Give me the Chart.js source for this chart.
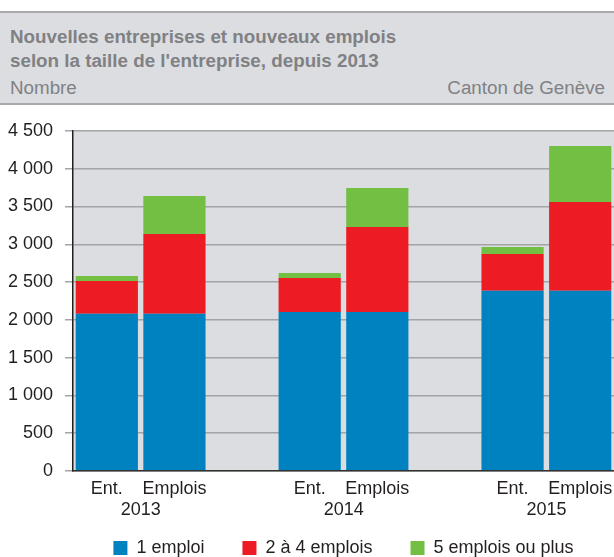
<!DOCTYPE html>
<html lang="fr">
<head>
  <meta charset="UTF-8">
  <script src="https://cdn.jsdelivr.net/npm/chart.js"></script>
  <style>
    body { margin: 0; background: #fff; font-family: "Liberation Sans", Arial, sans-serif; }
    .wrap { position: relative; width: 614px; height: 557px; }
    .header {
      position: absolute; left: 0; top: 11px; width: 614px; height: 90px;
      background: #dcdde0; border-top: 2px solid #a9a9aa; border-bottom: 2px solid #a9a9aa;
      color: #808184; font-size: 18.8px;
    }
    .title { position: absolute; left: 10px; top: 12px; font-weight: bold; line-height: 24px; }
    .unit { position: absolute; left: 10px; top: 64px; line-height: 22px; }
    .source { position: absolute; right: 9px; top: 64px; line-height: 22px; }
    canvas { position: absolute; left: 0; top: 0; }
  </style>
</head>
<body>
  <div class="wrap">
    <div class="header">
      <div class="title">Nouvelles entreprises et nouveaux emplois<br>selon la taille de l'entreprise, depuis 2013</div>
      <div class="unit">Nombre</div>
      <div class="source">Canton de Genève</div>
    </div>
    <canvas id="chart" width="614" height="557"></canvas>
  </div>

  <script>
    const years = ['2013', '2014', '2015'];
    const barLabels = ['Ent.', 'Emplois'];

    // pairs per year: [Ent., Emplois]
    const unEmploi = [2080, 2080, 2104, 2104, 2386, 2386];
    const deuxAQuatre = [435, 1057, 450, 1125, 486, 1174];
    const cinqEtPlus = [65, 503, 66, 516, 93, 741];

    const yTicks = { min: 0, max: 4500, step: 500 };

    // 2 bars per year with an empty slot between groups
    const categories = [];
    const yearRow = [];
    years.forEach((y, i) => {
      if (i > 0) { categories.push(''); yearRow.push(''); }
      categories.push(...barLabels);
      yearRow.push(y, '');
    });

    function spread(values) {
      const out = [];
      years.forEach((y, i) => {
        if (i > 0) out.push(null);
        out.push(values[i * 2], values[i * 2 + 1]);
      });
      return out;
    }

    function fmt(v) {
      return String(v).replace(/\B(?=(\d{3})+(?!\d))/g, ' ');
    }

    const plotBg = {
      id: 'plotBg',
      beforeDraw(chart) {
        const { ctx, chartArea: a } = chart;
        ctx.save();
        ctx.fillStyle = '#dcdde0';
        ctx.fillRect(a.left, a.top, a.right - a.left, a.bottom - a.top);
        ctx.restore();
      }
    };

    Chart.defaults.font.family = '"Liberation Sans", Arial, sans-serif';
    Chart.defaults.font.size = 18;
    Chart.defaults.color = '#231f20';

    new Chart(document.getElementById('chart'), {
      type: 'bar',
      data: {
        labels: categories,
        datasets: [
          { label: '1 emploi', data: spread(unEmploi), backgroundColor: '#0082c0' },
          { label: '2 à 4 emplois', data: spread(deuxAQuatre), backgroundColor: '#ed1c24' },
          { label: '5 emplois ou plus', data: spread(cinqEtPlus), backgroundColor: '#72bf44' }
        ]
      },
      options: {
        responsive: false,
        animation: false,
        layout: { padding: { top: 131, right: 0, left: 0, bottom: -10 } },
        datasets: { bar: { barPercentage: 1, categoryPercentage: 0.92 } },
        plugins: {
          legend: {
            position: 'bottom',
            fullSize: false,
            // wide gaps between items, empty title pulls the row back up
            labels: { boxWidth: 14, boxHeight: 14, padding: 38, color: '#231f20' },
            title: { display: true, text: '', font: { size: 0 }, padding: { top: -20, bottom: 0 } }
          },
          tooltip: { enabled: false }
        },
        scales: {
          x: {
            stacked: true,
            grid: { display: false, drawTicks: false },
            border: { color: '#333', width: 1.5 },
            ticks: { autoSkip: false, maxRotation: 0, padding: 7 },
            afterFit(scale) {
              scale.paddingLeft = 0;
              scale.paddingRight = 0;
              scale.height -= scale.options.ticks.padding;
            }
          },
          x2: {
            type: 'category',
            position: 'bottom',
            labels: yearRow,
            grid: { display: false, drawTicks: false },
            border: { display: false },
            ticks: { autoSkip: false, maxRotation: 0, labelOffset: 34, padding: 0 },
            afterFit(scale) { scale.paddingLeft = 0; scale.paddingRight = 0; }
          },
          y: {
            stacked: true,
            min: yTicks.min,
            max: yTicks.max,
            afterFit(scale) { scale.width = 73; },
            ticks: { stepSize: yTicks.step, padding: 12, callback: v => fmt(v) },
            grid: { color: '#a3a4a6', lineWidth: 1.5, tickLength: 8, tickColor: '#a3a4a6' },
            border: { color: '#231f20', width: 1.5 }
          }
        }
      },
      plugins: [plotBg]
    });
  </script>
</body>
</html>
